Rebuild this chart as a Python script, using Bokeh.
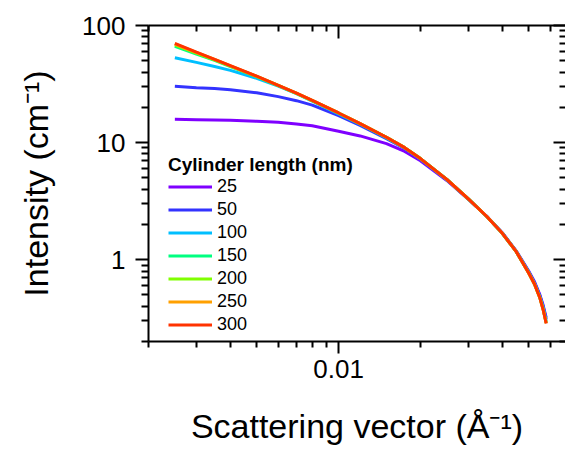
from bokeh.plotting import figure
from bokeh.models import (FixedTicker, LogAxis, Legend, LegendItem,
                          CustomJSTickFormatter, Range1d)
from bokeh.embed import file_html
from bokeh.resources import INLINE

# ---- data ----
q = [0.0025, 0.003, 0.0035, 0.004, 0.005, 0.006, 0.007, 0.008, 0.01, 0.012,
     0.015, 0.0175, 0.02, 0.025, 0.03, 0.035, 0.04, 0.045, 0.05, 0.0525, 0.055, 0.0565, 0.058]

I_25 = [15.8, 15.7, 15.6, 15.5, 15.2, 14.9, 14.4, 13.9, 12.5, 11.4,
        9.8, 8.4, 7.0, 4.75, 3.28, 2.36, 1.70, 1.19, 0.80, 0.65, 0.50, 0.41, 0.32]
I_50 = [30.3, 29.4, 28.9, 28.3, 26.6, 24.7, 22.8, 20.9, 17.0, 14.0,
        10.8, 8.9, 7.2, 4.82, 3.29, 2.35, 1.69, 1.18, 0.79, 0.64, 0.49, 0.40, 0.31]
I_100 = [53.1, 48.4, 44.6, 41.4, 35.4, 30.4, 26.2, 22.6, 17.6, 14.4,
         11.0, 9.0, 7.28, 4.84, 3.30, 2.35, 1.68, 1.17, 0.78, 0.63, 0.48, 0.39, 0.30]
I_150 = [66.5, 57.0, 50.3, 44.6, 36.5, 30.7, 26.3, 22.8, 17.85, 14.45,
         11.08, 9.05, 7.3, 4.85, 3.30, 2.35, 1.68, 1.17, 0.775, 0.62, 0.475, 0.38, 0.29]
I_200 = [68.5, 58.2, 51.0, 45.0, 36.7, 30.8, 26.35, 22.85, 17.9, 14.5,
         11.1, 9.05, 7.3, 4.85, 3.30, 2.35, 1.68, 1.17, 0.77, 0.62, 0.47, 0.38, 0.288]
I_250 = [69.5, 58.8, 51.3, 45.2, 36.8, 30.8, 26.4, 22.9, 17.9, 14.5,
         11.1, 9.05, 7.3, 4.85, 3.30, 2.35, 1.68, 1.17, 0.77, 0.62, 0.47, 0.375, 0.287]
I_300 = [70.5, 59.3, 51.4, 45.4, 36.9, 30.8, 26.4, 22.9, 17.9, 14.5,
         11.1, 9.05, 7.3, 4.85, 3.30, 2.35, 1.68, 1.17, 0.77, 0.62, 0.47, 0.375, 0.285]

lengths = ["25", "50", "100", "150", "200", "250", "300"]
series = [I_25, I_50, I_100, I_150, I_200, I_250, I_300]
colors = ["#7F00FF", "#3333FF", "#00BFFF", "#00FF80", "#80FF00", "#FFA000", "#FF3300"]

x_major = [0.01]
x_minor = [0.002, 0.003, 0.004, 0.005, 0.006, 0.007, 0.008, 0.009,
           0.02, 0.03, 0.04, 0.05, 0.06]
y_major = [1, 10, 100]
y_minor = [0.2, 0.3, 0.4, 0.5, 0.6, 0.7, 0.8, 0.9,
           2, 3, 4, 5, 6, 7, 8, 9, 20, 30, 40, 50, 60, 70, 80, 90]

FONT = "Liberation Sans"

p = figure(width=565, height=449, x_axis_type="log", y_axis_type="log",
           x_range=Range1d(0.002, 0.0683), y_range=Range1d(0.2, 100),
           output_backend="svg", toolbar_location=None,
           min_border_left=148, min_border_right=0,
           min_border_top=25, min_border_bottom=108)
p.outline_line_color = None
p.xgrid.visible = False
p.ygrid.visible = False
p.background_fill_color = "white"
p.border_fill_color = "white"

fmt = CustomJSTickFormatter(code="return tick.toString();")
blank = CustomJSTickFormatter(code="return '';")

def style_axis(ax, tick_in, tick_out, minor_in, minor_out, show_line=True):
    ax.axis_line_color = "black" if show_line else None
    ax.axis_line_width = 2
    ax.major_tick_line_color = "black"
    ax.minor_tick_line_color = "black"
    ax.major_tick_line_width = 2
    ax.minor_tick_line_width = 2
    ax.major_tick_in = tick_in
    ax.major_tick_out = tick_out
    ax.minor_tick_in = minor_in
    ax.minor_tick_out = minor_out
    ax.major_label_text_font = FONT
    ax.major_label_text_font_size = "26px"
    ax.major_label_text_color = "black"
    ax.axis_label_text_font = FONT
    ax.axis_label_text_font_size = "34px"
    ax.axis_label_text_font_style = "normal"
    ax.axis_label_text_color = "black"

xa = p.xaxis[0]
xa.ticker = FixedTicker(ticks=x_major, minor_ticks=x_minor)
xa.formatter = fmt
xa.axis_label = "Scattering vector (Å⁻¹)"
style_axis(xa, 0, 12, 0, 6)
xa.major_label_standoff = 6
xa.axis_label_standoff = 26

ya = p.yaxis[0]
ya.ticker = FixedTicker(ticks=y_major, minor_ticks=y_minor)
ya.formatter = fmt
ya.axis_label = "Intensity (cm⁻¹)"
style_axis(ya, 0, 13, 0, 7)
ya.major_label_standoff = 10
ya.axis_label_standoff = 24

top = LogAxis(ticker=FixedTicker(ticks=x_major, minor_ticks=x_minor), formatter=blank)
style_axis(top, 13, 0, 6, 0)
top.major_label_text_font_size = "0px"
p.add_layout(top, "above")

right = LogAxis(ticker=FixedTicker(ticks=y_major, minor_ticks=y_minor), formatter=blank)
style_axis(right, 12, 0, 6, 0, show_line=False)
right.major_label_text_font_size = "0px"
p.add_layout(right, "right")

items = []
for lab, ys, c in zip(lengths, series, colors):
    r = p.line(q, ys, line_color=c, line_width=3)
    items.append(LegendItem(label=lab, renderers=[r]))

legend = Legend(items=items, title="Cylinder length (nm)", location=(20, 6))
legend.title_text_font = FONT
legend.title_text_font_style = "bold"
legend.title_text_font_size = "19px"
legend.title_text_color = "black"
legend.title_standoff = 0
legend.label_text_font = FONT
legend.label_text_font_size = "18px"
legend.label_text_color = "black"
legend.glyph_width = 44
legend.glyph_height = 21
legend.label_height = 21
legend.spacing = 2
legend.padding = 0
legend.margin = 0
legend.label_standoff = 5
legend.border_line_color = None
legend.background_fill_alpha = 0
p.add_layout(legend)

open("out.html", "w").write(file_html(p, INLINE))
